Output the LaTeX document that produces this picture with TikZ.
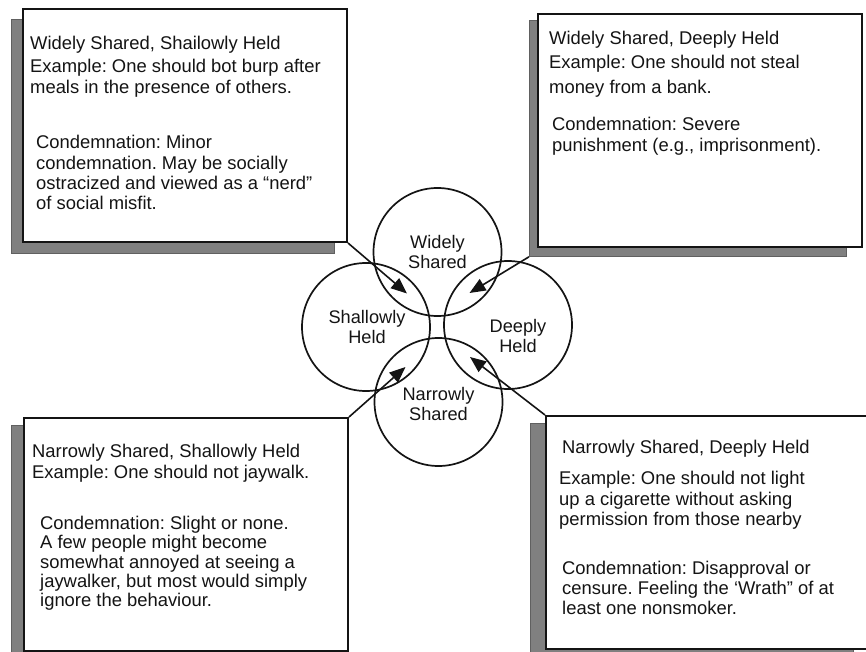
\documentclass[tikz,border=0pt]{standalone}
\usepackage{fontspec}
\setmainfont{Liberation Sans}
\usetikzlibrary{arrows.meta}
\definecolor{shade}{RGB}{128,128,128}
\definecolor{ink}{RGB}{20,20,20}
\frenchspacing

\begin{document}
\begin{tikzpicture}[x=1pt,y=-1pt,
  shadowbox/.style={fill=shade, draw=shade!75!black, line width=0.8pt,
    anchor=north west, inner sep=0pt},
  panel/.style={fill=white, draw=ink, line width=2pt,
    anchor=north west, inner sep=0pt},
  ring/.style={circle, draw=ink, line width=1.7pt, minimum size=128pt, inner sep=0pt},
  txt/.style={anchor=base west, inner sep=0pt, text=ink,
    font=\fontsize{18.4}{21}\selectfont},
  tag/.style={inner sep=0pt, text=ink, align=center,
    font=\fontsize{18.2}{20}\selectfont},
  arr/.style={draw=ink, line width=1.6pt, -{Triangle[length=16pt,width=13pt]}}]

\useasboundingbox (0,0) rectangle (866,652);
\clip (0,0) rectangle (866,652);

% drop shadows
\node[shadowbox, minimum width=323pt, minimum height=234pt] (tls) at (11,19) {};
\node[shadowbox, minimum width=317pt, minimum height=236pt] (trs) at (529,20) {};
\node[shadowbox, minimum width=323pt, minimum height=240pt] (bls) at (11,425) {};
\node[shadowbox, minimum width=323pt, minimum height=240pt] (brs) at (530,423) {};

% panels
\node[panel, minimum width=324pt, minimum height=233pt] (tl) at (22,8) {};
\node[panel, minimum width=324pt, minimum height=233pt] (tr) at (537,13) {};
\node[panel, minimum width=324pt, minimum height=233pt] (bl) at (23,417) {};
\node[panel, minimum width=325pt, minimum height=233pt] (br) at (545,415) {};

% top-left panel text
\node[txt] (tla1) at (30,49.5) {Widely Shared, Shailowly Held};
\node[txt] (tla2) at (30,72.5) {Example: One should bot burp after};
\node[txt] (tla3) at (30,93.5) {meals in the presence of others.};
\node[txt] (tlb1) at (36,148.5) {Condemnation: Minor};
\node[txt] (tlb2) at (36,169.5) {condemnation. May be socially};
\node[txt] (tlb3) at (36,189.5) {ostracized and viewed as a “nerd”};
\node[txt] (tlb4) at (36,209.5) {of social misfit.};

% top-right panel text
\node[txt] (tra1) at (549,44.5) {Widely Shared, Deeply Held};
\node[txt] (tra2) at (549,68.5) {Example: One should not steal};
\node[txt] (tra3) at (549,93.5) {money from a bank.};
\node[txt] (trb1) at (552,130.5) {Condemnation: Severe};
\node[txt] (trb2) at (552,151.5) {punishment (e.g., imprisonment).};

% bottom-left panel text
\node[txt] (bla1) at (32,457.5) {Narrowly Shared, Shallowly Held};
\node[txt] (bla2) at (32,478.5) {Example: One should not jaywalk.};
\node[txt] (blb1) at (40,529.5) {Condemnation: Slight or none.};
\node[txt] (blb2) at (40,548.5) {A few people might become};
\node[txt] (blb3) at (40,568.5) {somewhat annoyed at seeing a};
\node[txt] (blb4) at (40,587.5) {jaywalker, but most would simply};
\node[txt] (blb5) at (40,606.5) {ignore the behaviour.};

% bottom-right panel text
\node[txt] (bra1) at (562,453.5) {Narrowly Shared, Deeply Held};
\node[txt] (brb1) at (559,484.5) {Example: One should not light};
\node[txt] (brb2) at (559,505.5) {up a cigarette without asking};
\node[txt] (brb3) at (559,525.5) {permission from those nearby};
\node[txt] (brc1) at (562,574.5) {Condemnation: Disapproval or};
\node[txt] (brc2) at (562,594.5) {censure. Feeling the ‘Wrath” of at};
\node[txt] (brc3) at (562,614.5) {least one nonsmoker.};

% four overlapping circles
\node[ring] (wide) at (437.5,252) {};
\node[ring] (shallow) at (366,327) {};
\node[ring] (deep) at (508,325) {};
\node[ring] (narrow) at (438.5,402) {};

\node[tag] (wideL) at (437.5,252) {Widely\\Shared};
\node[tag] (shallowL) at (367,327) {Shallowly\\Held};
\node[tag] (deepL) at (518,336) {Deeply\\Held};
\node[tag] (narrowL) at (438.5,404) {Narrowly\\Shared};

% arrow targets
\coordinate (tipTL) at (407,293.5);
\coordinate (tipTR) at (469.5,293);
\coordinate (tipBL) at (405.5,367);
\coordinate (tipBR) at (470,357);

% connectors from panels to the circles
\draw[arr] (tl.south east) -- (tipTL);
\draw[arr] (trs.south west) -- (tipTR);
\draw[arr] (bl.north east) -- (tipBL);
\draw[arr] (br.north west) -- (tipBR);
\end{tikzpicture}
\end{document}
